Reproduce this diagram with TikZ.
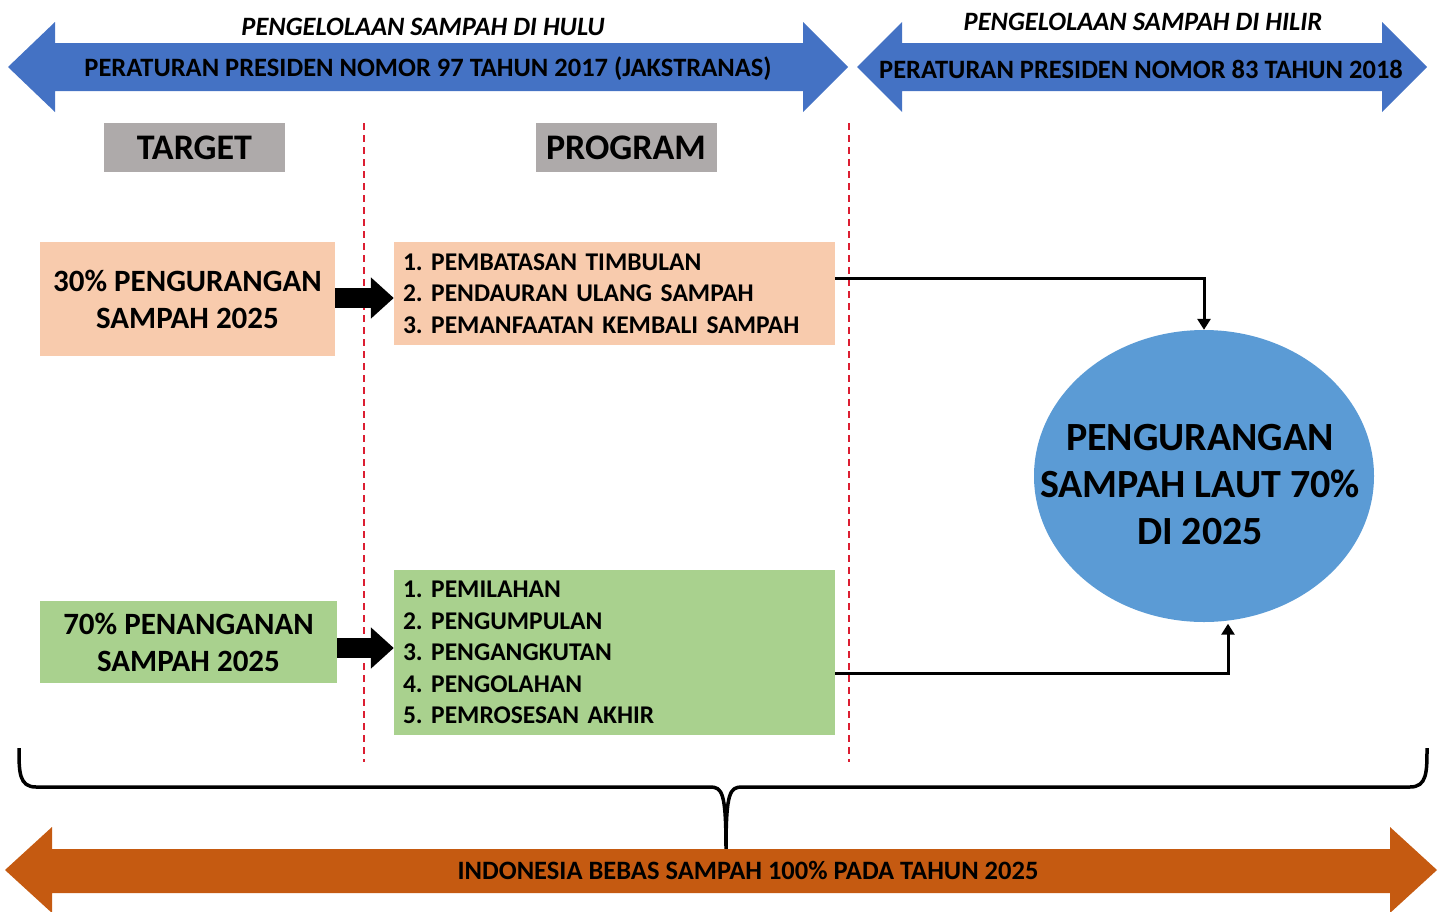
\documentclass[tikz,border=0pt]{standalone}
\usepackage{fontspec}
\setmainfont{Carlito}
\usetikzlibrary{shapes.geometric,arrows.meta,calc}
\definecolor{hulublue}{HTML}{4472C4}
\definecolor{peach}{HTML}{F8CBAD}
\definecolor{leaf}{HTML}{A9D18E}
\definecolor{headgray}{HTML}{AEAAAA}
\definecolor{seablue}{HTML}{5B9BD5}
\definecolor{rust}{HTML}{C55A11}
\definecolor{dashred}{RGB}{220,30,50}
\begin{document}
\frenchspacing
\begin{tikzpicture}[x=1pt,y=-1pt,
  bannertext/.style={inner sep=0pt, font=\bfseries\fontsize{26.5}{30}\selectfont},
  heading/.style={inner sep=0pt, font=\bfseries\itshape\fontsize{26.5}{30}\selectfont},
  tab/.style={fill=headgray, minimum width=181pt, minimum height=49pt,
    inner sep=0pt, font=\bfseries\fontsize{36}{40}\selectfont},
  goal/.style={inner sep=0pt, align=center,
    font=\bfseries\fontsize{31}{37}\selectfont},
  list/.style={inner sep=0pt, minimum width=441pt, text width=423pt, align=left,
    font=\bfseries\fontsize{25.5}{31.5}\selectfont},
  divider/.style={dashred, line width=1.6pt, dash pattern=on 7pt off 5pt},
  push/.style={line width=20pt, -{Triangle[length=23pt,width=40pt]}},
  conn/.style={line width=3pt, -{Triangle[length=11pt,width=13pt]}},
  brace/.style={line width=3.5pt, line join=round}
]
\useasboundingbox (0,0) rectangle (1444,911);

% regulation banners (double-headed block arrows)
\fill[hulublue] (8,67) -- (55,22) -- (55,43) -- (803,43) -- (803,22) -- (848,67)
  -- (803,112) -- (803,91) -- (55,91) -- (55,112) -- cycle;
\fill[hulublue] (857,67) -- (902,22) -- (902,43) -- (1382,43) -- (1382,22) -- (1427,67)
  -- (1382,112) -- (1382,91) -- (902,91) -- (902,112) -- cycle;
\node[bannertext] (hulu) at (428,69)
  {PERATURAN PRESIDEN NOMOR 97 TAHUN 2017 (JAKSTRANAS)};
\node[bannertext] (hilir) at (1141,69)
  {PERATURAN PRESIDEN NOMOR 83 TAHUN 2018};
\node[heading] (huluhead) at (423,27) {PENGELOLAAN SAMPAH DI HULU};
\node[heading] (hilirhead) at (1143,22) {PENGELOLAAN SAMPAH DI HILIR};

% column headers
\node[tab] (target) at (194.5,147.5) {TARGET};
\node[tab] (program) at (626,147.5) {PROGRAM};

% column separators
\draw[divider] (364,123) -- (364,762);
\draw[divider] (849,123) -- (849,762);

% targets
\node[goal, fill=peach, minimum width=295pt, minimum height=114pt] (t1) at (187.5,299)
  {30\% PENGURANGAN\\SAMPAH 2025};
\node[goal, fill=leaf, minimum width=297pt, minimum height=82pt] (t2) at (188.5,642)
  {70\% PENANGANAN\\SAMPAH 2025};

% programs
\node[list, fill=peach, minimum height=103pt] (p1) at (614.5,293.5)
  {1. PEMBATASAN TIMBULAN\\2. PENDAURAN ULANG SAMPAH\\3. PEMANFAATAN KEMBALI SAMPAH};
\node[list, fill=leaf, minimum height=165pt] (p2) at (614.5,652.5)
  {1. PEMILAHAN\\2. PENGUMPULAN\\3. PENGANGKUTAN\\4. PENGOLAHAN\\5. PEMROSESAN AKHIR};

\draw[push] ([yshift=1pt]t1.east) -- ([yshift=1pt]t1.east -| p1.west);
\draw[push] ([yshift=-6pt]t2.east) -- ([yshift=-6pt]t2.east -| p2.west);

% outcome
\node[ellipse, fill=seablue, minimum width=340pt, minimum height=292pt, inner sep=0pt] (sea) at (1204,476) {};
\node[align=center, inner sep=0pt, font=\bfseries\fontsize{40}{47}\selectfont] (seatext) at (1200,485)
  {PENGURANGAN\\SAMPAH LAUT 70\%\\DI 2025};

\draw[conn] ([yshift=15.5pt]p1.east) -| (sea.north);
\draw[conn] ([yshift=-20.5pt]p2.east) -| ([xshift=24pt,yshift=-1.5pt]sea.south);

% overall brace
\coordinate (bl) at (19,748);
\coordinate (br) at (1427,748);
\coordinate (bm) at (726,849);
\draw[brace] (bl) .. controls (19,772) and (19,787) .. (36,787) -- (710,787)
  .. controls (722,787) and (726,792) .. (bm)
  .. controls (726,792) and (730,787) .. (742,787) -- (1410,787)
  .. controls (1427,787) and (1427,772) .. (br);

% national goal
\fill[rust] (5,870) -- (52,827) -- (52,849) -- (1390,849) -- (1390,827) -- (1437,870)
  -- (1390,913) -- (1390,893) -- (52,893) -- (52,913) -- cycle;
\node[bannertext] (nasional) at (748,870)
  {INDONESIA BEBAS SAMPAH 100\% PADA TAHUN 2025};
\end{tikzpicture}
\end{document}
